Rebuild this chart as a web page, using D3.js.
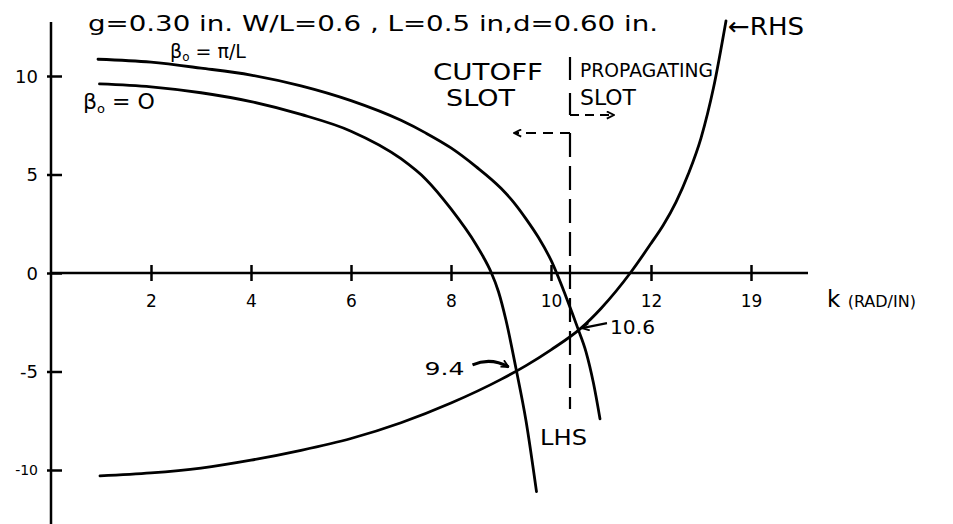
<!DOCTYPE html>
<html>
<head>
<meta charset="utf-8">
<script src="https://cdn.jsdelivr.net/npm/d3@7"></script>
<style>
  html, body { margin: 0; padding: 0; background: #fff; }
  svg { display: block; }
  text { font-family: "DejaVu Sans", "Liberation Sans", sans-serif; fill: #000; }
</style>
</head>
<body>
<svg id="chart" width="953" height="524"></svg>
<script>
// Left-hand side, phase constant beta0 = pi/L
const lhsPiK = [0.94, 2, 3, 4, 5, 6, 7, 7.5, 8, 8.5, 9, 9.25, 9.5, 9.75, 10, 10.3, 10.55, 10.7, 10.85, 10.98];
const lhsPiV = [10.85, 10.7, 10.4, 10.05, 9.5, 8.75, 7.75, 7.1, 6.35, 5.4, 4.3, 3.6, 2.75, 1.8, 0.65, -1.2, -2.9, -4.0, -5.6, -7.4];

// Left-hand side, phase constant beta0 = 0
const lhsZeroK = [0.97, 2, 3, 4, 5, 6, 7, 7.5, 8, 8.5, 8.65, 8.8, 8.95, 9.1, 9.3, 9.5, 9.71];
const lhsZeroV = [9.6, 9.45, 9.15, 8.7, 8.05, 7.2, 5.8, 4.75, 3.25, 1.45, 0.8, 0.05, -0.95, -2.4, -4.85, -7.5, -11.1];

// Right-hand side
const rhsK = [0.98, 2, 3, 4, 5, 6, 7, 8, 9, 9.5, 10, 10.6, 11, 11.6, 12, 12.25, 12.5, 12.75, 13, 13.25, 13.5];
const rhsV = [-10.3, -10.15, -9.9, -9.5, -9.0, -8.4, -7.6, -6.6, -5.4, -4.7, -3.9, -2.8, -1.8, 0.05, 1.5, 2.45, 3.6, 5.05, 6.85, 9.4, 12.8];

// Axis ticks and labels
const xTicks = [2, 4, 6, 8, 10, 12, 14];
const xTickLabels = ["2", "4", "6", "8", "10", "12", "19"];
const yTicks = [-10, -5, 0, 5, 10];
const yTickLabels = ["-10", "-5", "0", "5", "10"];

// Cutoff boundary and the two marked roots
const cutoffK = 10.38;
const rootLabels = ["9.4", "10.6"];
const rootK = [9.31, 10.56];
const rootV = [-4.92, -2.85];

const svg = d3.select("#chart");

const x = d3.scaleLinear().domain([0, 15.14]).range([51, 808]);
const y = d3.scaleLinear().domain([-10, 10]).range([470, 76]);

const defs = svg.append("defs");
defs.append("marker")
  .attr("id", "head")
  .attr("viewBox", "0 0 10 10")
  .attr("refX", 9).attr("refY", 5)
  .attr("markerWidth", 9).attr("markerHeight", 9)
  .attr("markerUnits", "userSpaceOnUse")
  .attr("orient", "auto")
  .append("path")
  .attr("d", "M1,1 L9,5 L1,9")
  .attr("fill", "none").attr("stroke", "#000").attr("stroke-width", 2);

// Axes
const xAxis = d3.axisBottom(x)
  .tickValues(xTicks)
  .tickFormat((d, i) => xTickLabels[i])
  .tickSizeOuter(0);
const gx = svg.append("g").attr("transform", `translate(0,${y(0)})`).call(xAxis);
gx.select(".domain").remove();
gx.selectAll(".tick line").attr("y1", -8).attr("y2", 8).attr("stroke", "#000").attr("stroke-width", 2.5);
gx.selectAll(".tick text").attr("y", 34).attr("dy", 0).attr("font-size", 17).attr("fill", "#000");
svg.append("line")
  .attr("x1", x(0)).attr("x2", 808).attr("y1", y(0)).attr("y2", y(0))
  .attr("stroke", "#000").attr("stroke-width", 2.5);

const yAxis = d3.axisLeft(y)
  .tickValues(yTicks)
  .tickFormat((d, i) => yTickLabels[i])
  .tickSizeOuter(0);
const gy = svg.append("g").attr("transform", `translate(${x(0)},0)`).call(yAxis);
gy.select(".domain").remove();
gy.selectAll(".tick line").attr("x1", -4).attr("x2", 11).attr("stroke", "#000").attr("stroke-width", 2.5);
gy.selectAll(".tick text").attr("x", -13).attr("dy", "0.35em").attr("fill", "#000")
  .attr("font-size", d => d === -10 ? 14 : 18);
svg.append("line")
  .attr("x1", x(0)).attr("x2", x(0)).attr("y1", 22).attr("y2", 524)
  .attr("stroke", "#000").attr("stroke-width", 2.5);

// Curves
const line = d3.line()
  .x(d => x(d[0]))
  .y(d => y(d[1]))
  .curve(d3.curveMonotoneX);

const series = [
  d3.zip(lhsPiK, lhsPiV),
  d3.zip(lhsZeroK, lhsZeroV),
  d3.zip(rhsK, rhsV)
];
svg.append("g").selectAll("path").data(series).join("path")
  .attr("d", line)
  .attr("fill", "none")
  .attr("stroke", "#000")
  .attr("stroke-width", 2.8)
  .attr("stroke-linecap", "round");

// Cutoff / propagating boundary
const cx = x(cutoffK);
svg.append("line").attr("x1", cx).attr("x2", cx).attr("y1", 57).attr("y2", 80)
  .attr("stroke", "#000").attr("stroke-width", 2.2);
svg.append("line").attr("x1", cx).attr("x2", cx).attr("y1", 93).attr("y2", 115)
  .attr("stroke", "#000").attr("stroke-width", 2.2);
svg.append("line").attr("x1", cx).attr("x2", cx).attr("y1", 133).attr("y2", 409)
  .attr("stroke", "#000").attr("stroke-width", 2.2).attr("stroke-dasharray", "24,9");
svg.append("line").attr("x1", cx).attr("x2", cx + 44).attr("y1", 115).attr("y2", 115)
  .attr("stroke", "#000").attr("stroke-width", 2).attr("stroke-dasharray", "9,6")
  .attr("marker-end", "url(#head)");
svg.append("line").attr("x1", cx).attr("x2", cx - 56).attr("y1", 133).attr("y2", 133)
  .attr("stroke", "#000").attr("stroke-width", 2).attr("stroke-dasharray", "10,7")
  .attr("marker-end", "url(#head)");

// Root annotations
const r0x = x(rootK[0]), r0y = y(rootV[0]);
svg.append("path")
  .attr("d", `M${r0x - 44},${r0y - 5} Q${r0x - 26},${r0y - 13} ${r0x - 8},${r0y - 3}`)
  .attr("fill", "none").attr("stroke", "#000").attr("stroke-width", 3)
  .attr("marker-end", "url(#head)");
svg.append("text").attr("x", r0x - 92).attr("y", r0y + 5)
  .attr("font-size", 18).attr("textLength", 40).attr("lengthAdjust", "spacingAndGlyphs")
  .text(rootLabels[0]);

const r1x = x(rootK[1]), r1y = y(rootV[1]);
svg.append("line")
  .attr("x1", r1x + 28).attr("y1", r1y - 6)
  .attr("x2", r1x + 3).attr("y2", r1y - 1)
  .attr("stroke", "#000").attr("stroke-width", 2.2).attr("marker-end", "url(#head)");
svg.append("text").attr("x", r1x + 31).attr("y", r1y + 5)
  .attr("font-size", 19).attr("textLength", 45).attr("lengthAdjust", "spacingAndGlyphs")
  .text(rootLabels[1]);

// Text
const txt = (s, px, py, size, len) => {
  const t = svg.append("text").attr("x", px).attr("y", py).attr("font-size", size);
  if (len) t.attr("textLength", len).attr("lengthAdjust", "spacingAndGlyphs");
  t.text(s);
  return t;
};
txt("g=0.30 in. W/L=0.6 , L=0.5 in,d=0.60 in.", 88, 31, 21, 570);

const bp = svg.append("text").attr("x", 170).attr("y", 58).attr("font-size", 19);
bp.append("tspan").text("β");
bp.append("tspan").attr("font-size", 12).attr("dy", 3).text("o");
bp.append("tspan").attr("dy", -3).text(" = π/L");

const bz = svg.append("text").attr("x", 83).attr("y", 109).attr("font-size", 22);
bz.append("tspan").text("β");
bz.append("tspan").attr("font-size", 13).attr("dy", 4).text("o");
bz.append("tspan").attr("dy", -4).text(" = O");

txt("CUTOFF", 433, 80, 23, 110);
txt("SLOT", 446, 106, 23, 69);
txt("PROPAGATING", 580, 77, 20, 133);
txt("SLOT", 580, 105, 21, 56);
txt("←RHS", 728, 35, 25, 76);
txt("LHS", 540, 445, 22, 47);

const kl = svg.append("text").attr("x", 827).attr("y", 307).attr("font-size", 23);
kl.append("tspan").text("k ");
kl.append("tspan").attr("font-size", 16).text("(RAD/IN)");
</script>
</body>
</html>
